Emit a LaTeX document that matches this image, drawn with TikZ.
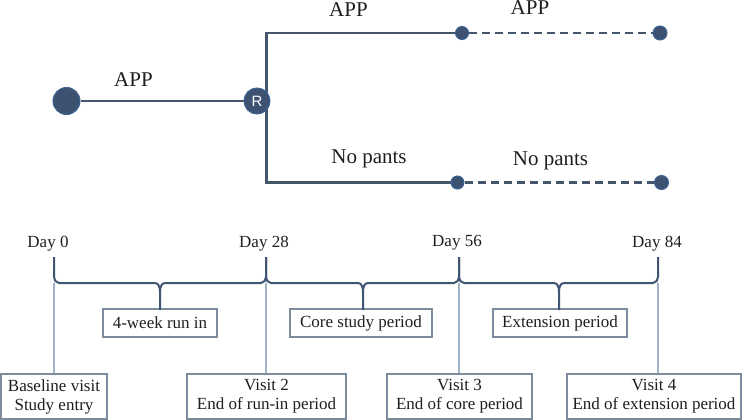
\documentclass[tikz,border=0pt]{standalone}
\usepackage{fontspec}
\setmainfont{Liberation Serif}
\newfontfamily\rfont{Liberation Sans}
\usetikzlibrary{backgrounds}
\definecolor{linec}{HTML}{45566B}
\definecolor{dotfill}{HTML}{3D5170}
\definecolor{dotedge}{HTML}{3E6494}
\definecolor{bracec}{HTML}{3F5573}
\definecolor{lightc}{HTML}{9FB3C8}
\definecolor{boxc}{HTML}{7D8C9C}
\definecolor{txtc}{HTML}{1E1E1E}
\tikzset{
  bigdot/.style={circle, fill=dotfill, draw=dotedge, line width=1pt, inner sep=0pt, minimum size=#1},
  mainline/.style={draw=linec, line width=2.6pt},
  dashline/.style={draw=linec, line width=2.6pt, dash pattern=on 8pt off 5pt},
  toplabel/.style={anchor=base, text=txtc, font=\fontsize{21}{24}\selectfont, inner sep=0pt},
  daylabel/.style={anchor=base, text=txtc, font=\fontsize{17}{20}\selectfont, inner sep=0pt},
  bracepath/.style={draw=bracec, line width=2pt},
  lightline/.style={draw=lightc, line width=1.3pt},
  periodbox/.style={draw=boxc, line width=1.3pt, text=txtc, font=\fontsize{17}{20}\selectfont, inner sep=0pt, minimum height=28pt},
  visitbox/.style={draw=boxc, line width=1.3pt, text=txtc, font=\fontsize{17}{19}\selectfont, inner sep=0pt, align=center, minimum height=45pt},
}
\begin{document}
\begin{tikzpicture}[x=1pt,y=-1pt]
\useasboundingbox (0,0) rectangle (750,420);
% top arm
\node[bigdot=27pt] (start) at (66.5,101) {};
\node[bigdot=26pt, text=white, font=\rfont\fontsize{15}{15}\selectfont] (rnode) at (257,101) {R};
\node[bigdot=13pt] (topmid) at (462,33) {};
\node[bigdot=14pt] (topend) at (660,33) {};
\node[bigdot=13pt] (botmid) at (457.5,182.5) {};
\node[bigdot=14pt] (botend) at (661.5,182.5) {};
\coordinate (ct) at (266.5,33);
\coordinate (cb) at (266.5,182.5);
\begin{pgfonlayer}{background}
\draw[mainline, line width=2.3pt] (start) -- (rnode);
\draw[mainline, line cap=rect] (ct) -- (cb);
\draw[mainline] (ct) -- (topmid);
\draw[mainline] (cb) -- (botmid);
\draw[dashline] (topmid) -- (topend);
\draw[dashline] (botmid) -- (botend);
\end{pgfonlayer}
\node[toplabel] (l1) at (133.5,87) {APP};
\node[toplabel] (l2) at (348.5,17) {APP};
\node[toplabel] (l3) at (530,15) {APP};
\node[toplabel] (l4) at (369,163) {No pants};
\node[toplabel] (l5) at (550.5,165) {No pants};
% timeline
\node[daylabel] (d0) at (48,247) {Day 0};
\node[daylabel] (d1) at (264,247) {Day 28};
\node[daylabel] (d2) at (457,246) {Day 56};
\node[daylabel] (d3) at (657,247) {Day 84};
\coordinate (t0) at (54,257);
\coordinate (t1) at (266,257);
\coordinate (t2) at (459,257);
\coordinate (t3) at (658,257);
\coordinate (m0) at (160,310);
\coordinate (m1) at (363,310);
\coordinate (m2) at (559,310);
% period boxes
\node[periodbox, minimum width=114pt] (p0) at (160,323) {4-week run in};
\node[periodbox, minimum width=142pt] (p1) at (361,323) {Core study period};
\node[periodbox, minimum width=134pt] (p2) at (560,323) {Extension period};
% visit boxes
\node[visitbox, minimum width=106pt] (v0) at (54,396.5) {Baseline visit\\Study entry};
\node[visitbox, minimum width=159pt] (v1) at (266.5,396.5) {Visit 2\\End of run-in period};
\node[visitbox, minimum width=145pt] (v2) at (459.5,396.5) {Visit 3\\End of core period};
\node[visitbox, minimum width=174pt] (v3) at (654,396.5) {Visit 4\\End of extension period};
% light lines
\draw[lightline] ([yshift=-26pt]t0) -- (t0 |- v0.north);
\draw[lightline] ([yshift=-26pt]t1) -- (t1 |- v1.north);
\draw[lightline] ([yshift=-26pt]t2) -- (t2 |- v2.north);
\draw[lightline] ([yshift=-26pt]t3) -- (t3 |- v3.north);
% braces
\foreach \a/\m/\b in {t0/m0/t1, t1/m1/t2, t2/m2/t3}{
  \draw[bracepath, line join=round]
    (\a) -- ([yshift=-20pt]\a) to[out=-90,in=180] ([xshift=5pt,yshift=-26pt]\a)
    -- ([xshift=-5pt,yshift=27pt]\m) to[out=0,in=90] ([yshift=18pt]\m) -- (\m)
    ([yshift=18pt]\m) to[out=90,in=180] ([xshift=5pt,yshift=27pt]\m)
    -- ([xshift=-5pt,yshift=-26pt]\b) to[out=0,in=-90] ([yshift=-20pt]\b) -- (\b);
}
\end{tikzpicture}
\end{document}
